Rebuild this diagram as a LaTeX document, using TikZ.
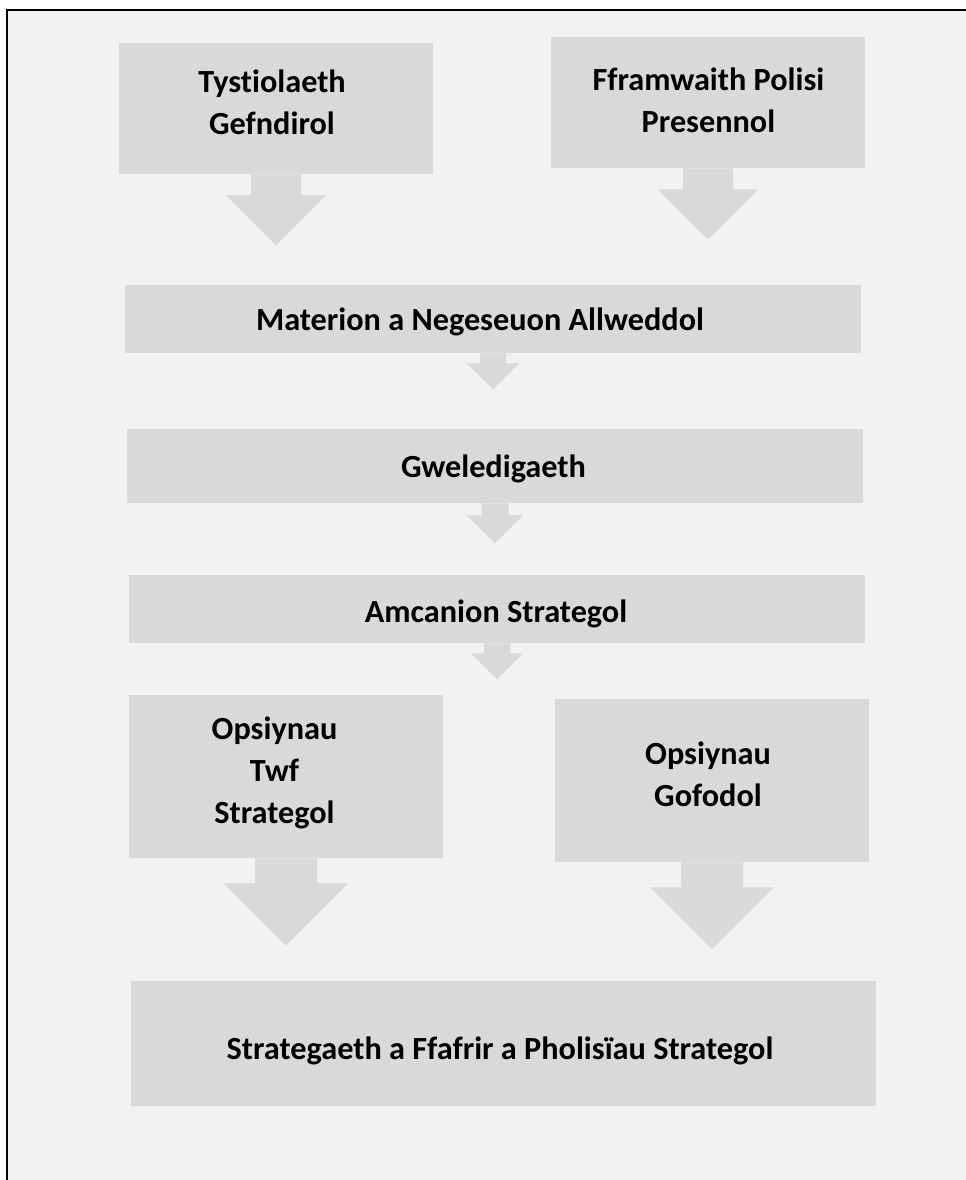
\documentclass[tikz,border=0pt]{standalone}
\usepackage{fontspec}
\setmainfont{Carlito}[Ligatures=NoCommon]
\definecolor{bgc}{HTML}{F2F2F2}
\definecolor{boxc}{HTML}{D9D9D9}
\newcommand\downarr[5]{% node, stem half width, stem length, head half width, head length
  \fill[boxc] (#1.south) ++(-#2,0) -- ++(0,#3) -- ++({-(#4-#2)},0) -- ++(#4,#5) -- ++(#4,-#5) -- ++({-(#4-#2)},0) -- ++(0,-#3) -- cycle;}
\begin{document}
\begin{tikzpicture}[x=0.75pt,y=-0.75pt,
  box/.style 2 args={rectangle, fill=boxc, draw=none, inner sep=0pt, minimum width=#1*0.75pt, minimum height=#2*0.75pt},
  txt/.style={font=\fontsize{24.2}{31.5}\selectfont\bfseries, align=center, inner sep=0pt, anchor=base}]
\useasboundingbox (0,0) rectangle (966,1180);
\fill[white] (0,0) rectangle (966,1180);
\fill[bgc] (7,10) rectangle (966,1180);
\draw[line width=1.5pt] (7,1180) -- (7,10) -- (966,10);

% boxes
\node[box={314}{131}] (tyst) at (276,108.5) {};
\node[box={314}{131}] (ffram) at (708,102.5) {};
\node[box={736}{68}] (mat) at (493,319) {};
\node[box={736}{74}] (gwel) at (495,466) {};
\node[box={736}{68}] (amc) at (497,609) {};
\node[box={314}{163}] (twf) at (286,776.5) {};
\node[box={314}{163}] (gof) at (712,780.5) {};
\node[box={745}{125}] (strat) at (503.5,1043.5) {};

% texts (base anchor = baseline of the last line)
\node[txt] (tystT) at (272,135) {Tystiolaeth\\Gefndirol};
\node[txt] (fframT) at (708.5,133) {Fframwaith Polisi\\Presennol};
\node[txt] (matT) at (480,330) {Materion a Negeseuon Allweddol};
\node[txt] (gwelT) at (493.5,477) {Gweledigaeth};
\node[txt] (amcT) at (496,622) {Amcanion Strategol};
\node[txt] (twfT) at (274.5,823) {Opsiynau\\Twf\\Strategol};
\node[txt] (gofT) at (708,806) {Opsiynau\\Gofodol};
\node[txt] (stratT) at (500,1059) {Strategaeth a Ffafrir a Pholisïau Strategol};

% arrows
\downarr{tyst}{25}{21}{50}{50}
\downarr{ffram}{25}{21}{50}{50}
\downarr{mat}{13}{10}{26}{26}
\downarr{gwel}{13.5}{12}{28}{28}
\downarr{amc}{13}{10}{26}{26}
\downarr{twf}{31}{25}{62}{62}
\downarr{gof}{31}{25}{62}{62}
\end{tikzpicture}
\end{document}
